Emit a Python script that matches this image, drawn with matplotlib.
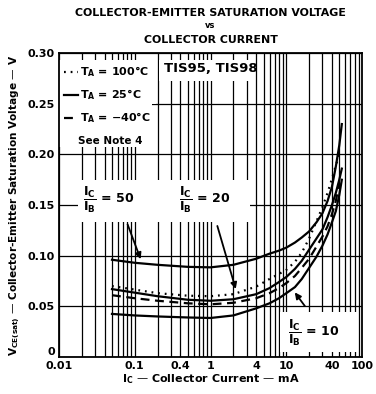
import matplotlib.pyplot as plt
from matplotlib.patches import Rectangle

nan = float('nan')
plt.rcParams['font.family'] = 'DejaVu Sans'
plt.rcParams['mathtext.fontset'] = 'dejavusans'
plt.rcParams['mathtext.default'] = 'bf'

# collector current, mA
ic_ma = [0.05, 0.1, 0.2, 0.5, 1, 2, 4, 6, 8, 10, 13, 16, 20, 25, 30, 35, 40, 45, 50, 54]

# VCE(sat), V
vce_ratio50 = [0.096, 0.093, 0.091, 0.089, 0.0885, 0.091, 0.097, 0.102, 0.105, 0.108, 0.113,
               0.118, 0.124, 0.133, 0.142, 0.154, 0.168, 0.188, 0.209, 0.230]
vce_100c = [0.070, 0.0665, 0.063, 0.0605, 0.060, 0.062, 0.0695, 0.077, 0.082, 0.086, 0.094,
            0.103, 0.117, 0.134, 0.148, 0.162, 0.176, 0.189, 0.200, nan]
vce_25c = [0.067, 0.0635, 0.060, 0.0565, 0.0555, 0.057, 0.062, 0.068, 0.074, 0.079, 0.087,
           0.095, 0.106, 0.117, 0.126, 0.138, 0.150, 0.162, 0.175, 0.186]
vce_m40c = [0.061, 0.058, 0.0555, 0.053, 0.052, 0.0535, 0.058, 0.063, 0.068, 0.073, 0.080,
            0.088, 0.097, 0.109, 0.119, 0.129, 0.141, 0.154, 0.171, nan]
vce_ratio10 = [0.0425, 0.041, 0.040, 0.039, 0.0385, 0.041, 0.048, 0.053, 0.058, 0.063, 0.069,
               0.077, 0.088, 0.099, 0.110, 0.121, 0.133, 0.144, 0.160, 0.175]

x_ticks = [0.01, 0.1, 0.4, 1, 4, 10, 40, 100]
x_labels = ['0.01', '0.1', '0.4', '1', '4', '10', '40', '100']
y_ticks = [0, 0.05, 0.10, 0.15, 0.20, 0.25, 0.30]
y_labels = ['0', '0.05', '0.10', '0.15', '0.20', '0.25', '0.30']
minor_x = [m * d for d in [0.01, 0.1, 1, 10] for m in range(2, 10)]

fig = plt.figure(figsize=(3.76, 3.94), dpi=100)
ax = fig.add_axes([0.157, 0.094, 0.806, 0.771])

ax.set_xscale('log')
ax.set_xlim(0.01, 100)
ax.set_ylim(0, 0.30)
ax.set_xticks(x_ticks)
ax.set_xticklabels(x_labels)
ax.set_xticks(minor_x, minor=True)
ax.set_yticks(y_ticks)
ax.set_yticklabels(y_labels)
ax.tick_params(which='both', length=0, labelsize=8, pad=3)
for lab in ax.get_xticklabels() + ax.get_yticklabels():
    lab.set_fontweight('bold')
ax.get_yticklabels()[0].set_va('bottom')

ax.grid(which='both', axis='x', color='black', lw=0.9)
ax.grid(which='major', axis='y', color='black', lw=0.9)
for s in ax.spines.values():
    s.set_linewidth(1.3)

# white areas where the original leaves the grid blank
for x0, x1, y0, y1 in [(0.01, 0.19, 0.25, 0.293), (0.01, 0.17, 0.207, 0.25),
                       (0.21, 3.3, 0.273, 0.293), (0.0178, 3.3, 0.133, 0.175),
                       (8.2, 85, 0.005, 0.044)]:
    ax.add_patch(Rectangle((x0, y0), x1 - x0, y1 - y0, facecolor='white',
                           edgecolor='none', zorder=2))

ax.plot(ic_ma, vce_ratio50, color='black', lw=1.6, zorder=3)
ax.plot(ic_ma, vce_100c, color='black', lw=1.6, ls=(0, (0.8, 2.2)),
        label='T$_A$ = 100°C', zorder=3)
ax.plot(ic_ma, vce_25c, color='black', lw=1.6, label='T$_A$ = 25°C', zorder=3)
ax.plot(ic_ma, vce_m40c, color='black', lw=1.6, ls=(0, (4, 2.5)),
        label='T$_A$ = −40°C', zorder=3)
ax.plot(ic_ma, vce_ratio10, color='black', lw=1.6, zorder=3)

leg = ax.legend(loc='upper left', bbox_to_anchor=(-0.005, 0.985), frameon=False,
                fontsize=8, handlelength=1.2, handletextpad=0.2,
                labelspacing=0.75, borderaxespad=0.2)
for t in leg.get_texts():
    t.set_fontweight('bold')
ax.text(0.047, 0.213, 'See Note 4', fontsize=7.5, fontweight='bold', ha='center',
        va='center', zorder=4)
ax.text(1.0, 0.285, 'TIS95, TIS98', fontsize=9.5, fontweight='bold', ha='center',
        va='center', zorder=4)

# current-ratio labels with arrows
ratio_kw = dict(fontsize=9, fontweight='bold', va='center', zorder=4)
ax.text(0.021, 0.155, r'$\dfrac{I_C}{I_B}$ = 50', **ratio_kw)
ax.text(0.38, 0.155, r'$\dfrac{I_C}{I_B}$ = 20', **ratio_kw)
ax.text(10.6, 0.0237, r'$\dfrac{I_C}{I_B}$ = 10', **ratio_kw)
arrow = dict(arrowstyle='-|>', color='black', lw=1.3, mutation_scale=9)
ax.annotate('', xy=(0.123, 0.094), xytext=(0.078, 0.1335), arrowprops=arrow, zorder=4)
ax.annotate('', xy=(2.2, 0.0645), xytext=(1.2, 0.132), arrowprops=arrow, zorder=4)
ax.annotate('', xy=(12.3, 0.066), xytext=(18.5, 0.048), arrowprops=arrow, zorder=4)

ax.set_xlabel('I$_C$ — Collector Current — mA', fontsize=8, fontweight='bold',
              labelpad=1)
ax.set_ylabel('V$_{CE(sat)}$ — Collector-Emitter Saturation Voltage — V',
              fontsize=7.6, fontweight='bold', labelpad=4)

fig.text(0.56, 0.968, 'COLLECTOR-EMITTER SATURATION VOLTAGE', fontsize=7.9,
         fontweight='bold', ha='center', va='center')
fig.text(0.56, 0.935, 'vs', fontsize=6, fontweight='bold', ha='center', va='center')
fig.text(0.56, 0.899, 'COLLECTOR CURRENT', fontsize=7.9, fontweight='bold',
         ha='center', va='center')

fig.savefig('out.png', dpi=100)
